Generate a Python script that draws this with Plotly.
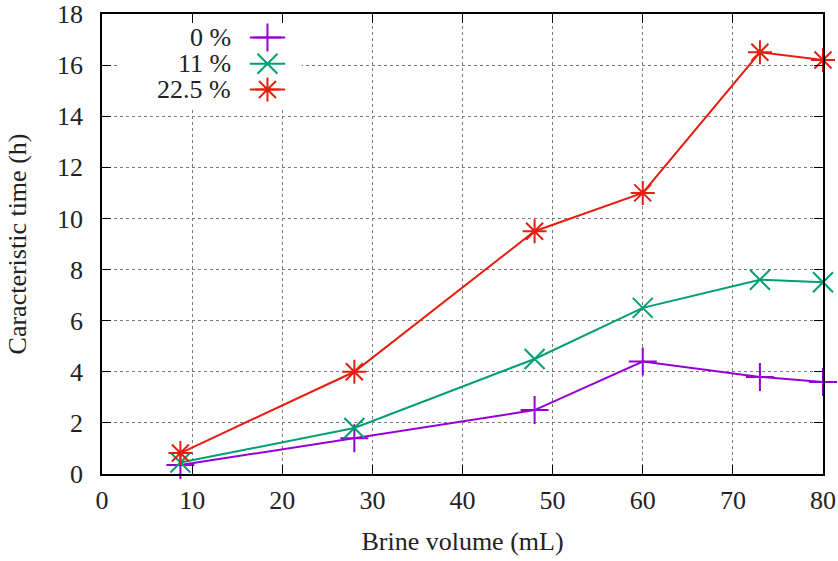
import plotly.graph_objects as go

brine_volume = [8.7, 28, 48, 60, 73, 80]
series_names = ["0 %", "11 %", "22.5 %"]
time_0 = [0.35, 1.4, 2.5, 4.4, 3.8, 3.6]
time_11 = [0.45, 1.8, 4.5, 6.5, 7.6, 7.5]
time_22 = [0.82, 4.0, 9.5, 11.0, 16.5, 16.2]
x_ticks = [0, 10, 20, 30, 40, 50, 60, 70, 80]
y_ticks = [0, 2, 4, 6, 8, 10, 12, 14, 16, 18]

colors = ["#9400D3", "#009E73", "#E51E10"]
symbols = ["cross-thin", "x-thin", "asterisk-open"]
series = [time_0, time_11, time_22]

FONT = "Liberation Serif, Times New Roman, serif"
fig = go.Figure()

for name, ys, c, s in zip(series_names, series, colors, symbols):
    fig.add_trace(go.Scatter(
        x=brine_volume, y=ys, mode="lines+markers", name=name,
        line=dict(color=c, width=2),
        marker=dict(symbol=s, size=20, color=c, line=dict(color=c, width=2)),
        showlegend=False, cliponaxis=False,
    ))

# opaque key background (on the overlay axes, above the main grid)
fig.add_trace(go.Scatter(
    x=[0.025, 0.277, 0.277, 0.025, 0.025], y=[0.798, 0.798, 1.0, 1.0, 0.798],
    xaxis="x2", yaxis="y2", mode="lines", fill="toself", fillcolor="white",
    line=dict(width=0, color="white"), showlegend=False, hoverinfo="skip"))

# custom legend (text left of sample)
legend_y = [0.949, 0.892, 0.836]
for name, c, s, ly in zip(series_names, colors, symbols, legend_y):
    fig.add_trace(go.Scatter(
        x=[0.205, 0.254], y=[ly, ly], xaxis="x2", yaxis="y2", mode="lines",
        line=dict(color=c, width=2), showlegend=False, hoverinfo="skip"))
    fig.add_trace(go.Scatter(
        x=[0.2295], y=[ly], xaxis="x2", yaxis="y2", mode="markers",
        marker=dict(symbol=s, size=20, color=c, line=dict(color=c, width=2)),
        showlegend=False, hoverinfo="skip"))
    fig.add_annotation(x=0.180, y=ly, xref="x2", yref="y2", text=name,
                       showarrow=False, xanchor="right", yanchor="middle",
                       borderpad=0,
                       font=dict(family=FONT, size=26, color="#222"))

axis_common = dict(
    showline=True, linecolor="black", linewidth=1.5, mirror="ticks",
    ticks="inside", ticklen=9, tickwidth=1, tickcolor="black",
    showgrid=True, gridcolor="#7a7a7a", griddash="dot", gridwidth=1,
    zeroline=False, automargin=False, ticklabeloverflow="allow",
    tickfont=dict(family=FONT, size=26, color="#222"),
)
hidden = dict(overlaying="x", range=[0, 1], showgrid=False, zeroline=False,
              showline=False, ticks="", showticklabels=False, fixedrange=True)

fig.update_layout(
    width=838, height=561,
    margin=dict(l=102, r=15, t=14, b=87),
    paper_bgcolor="white", plot_bgcolor="white",
    font=dict(family=FONT, size=26, color="#222"),
    xaxis=dict(range=[0, 80], tickvals=x_ticks, ticklabelstandoff=2,
               title=dict(text="Brine volume (mL)", standoff=18,
                          font=dict(family=FONT, size=26, color="#222")),
               **axis_common),
    yaxis=dict(range=[0, 18], tickvals=y_ticks, ticklabelstandoff=12,
               title=dict(text="Caracteristic time (h)", standoff=23,
                          font=dict(family=FONT, size=26, color="#222")),
               **axis_common),
    xaxis2=dict(hidden),
    yaxis2=dict(hidden, overlaying="y"),
)

# remove the default page margin so the 838x561 figure fills the window exactly
fig.write_html(
    "out.html",
    config={"displayModeBar": False},
    post_script="document.body.style.margin='0';document.body.style.overflow='hidden';",
)
